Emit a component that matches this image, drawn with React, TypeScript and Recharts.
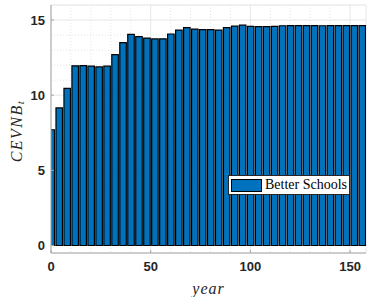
import { Bar, BarChart, CartesianGrid, Legend, XAxis, YAxis } from "recharts";

const YEARS = [
  0, 4, 8, 12, 16, 20, 24, 28, 32, 36, 40, 44, 48, 52, 56, 60, 64, 68, 72, 76,
  80, 84, 88, 92, 96, 100, 104, 108, 112, 116, 120, 124, 128, 132, 136, 140,
  144, 148, 152, 156,
];
const CEVNB = [
  7.7, 9.15, 10.45, 11.95, 11.97, 11.93, 11.88, 11.93, 12.7, 13.5, 14.05, 13.9,
  13.8, 13.74, 13.75, 14.07, 14.33, 14.49, 14.4, 14.36, 14.36, 14.33, 14.49,
  14.6, 14.66, 14.58, 14.56, 14.56, 14.58, 14.62, 14.63, 14.63, 14.63, 14.63,
  14.62, 14.63, 14.63, 14.63, 14.63, 14.63,
];
const X_DOMAIN = [0, 158];
const Y_DOMAIN = [-0.5, 16];
const X_TICKS = [0, 50, 100, 150];
const Y_TICKS = [0, 5, 10, 15];
const X_MINOR = [10, 20, 30, 40, 60, 70, 80, 90, 110, 120, 130, 140];
const Y_MINOR = [1, 2, 3, 4, 6, 7, 8, 9, 11, 12, 13, 14, 16];
const SERIES = "Better Schools";

const data = YEARS.map((year, i) => ({ year, value: CEVNB[i] }));

const BLUE = "#0072BD";
const FRAME = "#a6a6a6";
const SERIF = "Liberation Serif, Times New Roman, serif";
const tickFont = {
  fontSize: 13,
  fontWeight: 700,
  fill: "#262626",
  fontFamily: "Liberation Sans, Arial, sans-serif",
};

// minor grid positions: use the axis scale if given, else the linear domain
const minorY = ({ yAxis, offset }: any) => {
  if (yAxis && typeof yAxis.scale === "function") return Y_MINOR.map((v) => yAxis.scale(v));
  const [lo, hi] = Y_DOMAIN;
  return Y_MINOR.map((v) => offset.top + offset.height * (1 - (v - lo) / (hi - lo)));
};
const minorX = ({ xAxis, offset }: any) => {
  if (xAxis && typeof xAxis.scale === "function") return X_MINOR.map((v) => xAxis.scale(v));
  const [lo, hi] = X_DOMAIN;
  return X_MINOR.map((v) => offset.left + (offset.width * (v - lo)) / (hi - lo));
};

function YLabel(props: any) {
  const vb = props.viewBox || {};
  const cx = 16;
  const cy = vb.y + vb.height / 2 + 2;
  return (
    <text
      x={cx}
      y={cy}
      transform={`rotate(-90 ${cx} ${cy})`}
      textAnchor="middle"
      dominantBaseline="central"
      fontFamily={SERIF}
      fontStyle="italic"
      fontSize={16}
      letterSpacing={1.5}
      fill="#262626"
    >
      CEVNB
      <tspan fontSize={11} dy={4}>
        t
      </tspan>
    </text>
  );
}

function LegendBox() {
  return (
    <div
      style={{
        display: "flex",
        alignItems: "center",
        background: "#fff",
        border: "1px solid #262626",
        padding: 2,
        fontFamily: SERIF,
        fontSize: 14,
        color: "#000",
        lineHeight: "14px",
      }}
    >
      <span
        style={{
          display: "inline-block",
          width: 29,
          height: 11,
          background: BLUE,
          border: "1px solid #000",
          marginRight: 3,
        }}
      />
      {SERIES}
    </div>
  );
}

export default function App() {
  return (
    <div style={{ position: "absolute", left: 0, top: 0, background: "#fff" }}>
      <BarChart
        width={367}
        height={297}
        data={data}
        margin={{ top: 5, right: 1, left: 0, bottom: 0 }}
        barSize={6.5}
      >
        <CartesianGrid
          stroke="#e4e4e4"
          strokeDasharray="1 2"
          horizontalCoordinatesGenerator={minorY}
          verticalCoordinatesGenerator={minorX}
        />
        <CartesianGrid stroke="#e6e6e6" />
        <XAxis
          dataKey="year"
          type="number"
          domain={X_DOMAIN}
          ticks={X_TICKS}
          allowDataOverflow
          height={44}
          stroke={FRAME}
          tickSize={-3}
          tickMargin={12}
          tick={tickFont}
          label={{
            value: "year",
            position: "insideBottom",
            offset: 3,
            style: {
              fontFamily: SERIF,
              fontStyle: "italic",
              fontSize: 16,
              letterSpacing: 1,
              fill: "#262626",
            },
          }}
        />
        <XAxis
          xAxisId="top"
          orientation="top"
          type="number"
          domain={X_DOMAIN}
          ticks={X_TICKS}
          height={0}
          stroke={FRAME}
          tickSize={-3}
          tickFormatter={() => ""}
        />
        <YAxis
          type="number"
          domain={Y_DOMAIN}
          ticks={Y_TICKS}
          allowDataOverflow
          width={51}
          stroke={FRAME}
          tickSize={-3}
          tickMargin={9}
          tick={tickFont}
          label={<YLabel />}
        />
        <YAxis
          yAxisId="right"
          orientation="right"
          type="number"
          domain={Y_DOMAIN}
          ticks={Y_TICKS}
          width={0}
          stroke={FRAME}
          tickSize={-3}
          tickFormatter={() => ""}
        />
        <Legend
          layout="horizontal"
          verticalAlign="middle"
          content={() => <LegendBox />}
          wrapperStyle={{ left: 228, top: 175, width: "auto" }}
        />
        <Bar
          dataKey="value"
          name={SERIES}
          fill={BLUE}
          stroke="#000"
          strokeWidth={1.2}
          isAnimationActive={false}
        />
      </BarChart>
    </div>
  );
}
